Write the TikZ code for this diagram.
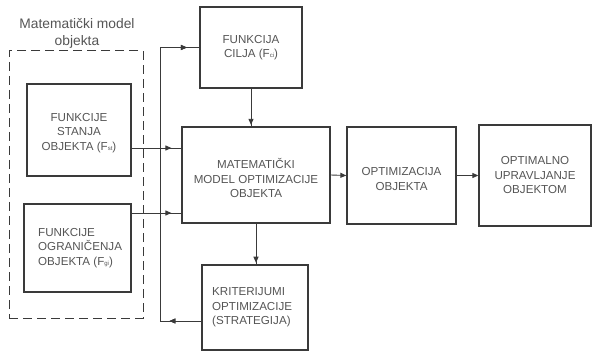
\documentclass[tikz,border=0pt]{standalone}
\usepackage{fontspec}
\setmainfont{Liberation Sans}
\usetikzlibrary{arrows.meta,decorations.markings}
\definecolor{txt}{HTML}{555555}
\definecolor{ln}{HTML}{3A3A3A}
\tikzset{
  blk/.style={draw=ln, line width=1.3pt, rectangle, inner sep=0pt, text=txt,
     font=\fontsize{11.6}{14.5}\selectfont, align=center},
  conn/.style={draw=ln, line width=0.9pt},
  tip/.style={-{Triangle[length=6pt,width=5pt]}},
  midarr/.style={decoration={markings, mark=at position #1 with {\arrow{Triangle[length=6pt,width=5pt]}}}, postaction=decorate},
}
\begin{document}
\begin{tikzpicture}[x=1pt,y=-1pt]
\useasboundingbox (0,0) rectangle (593,352);
% dashed frame
\node (frame) [draw=ln, line width=1pt, dash pattern=on 9pt off 5pt, rectangle, inner sep=0pt,
   minimum width=134pt, minimum height=267pt] at (76,184.5) {};
\node (title) [text=txt, font=\fontsize{13.8}{17}\selectfont, align=center] at (77,33) {Matematički model\\objekta};
% boxes
\node (cilj) [blk, minimum width=102pt, minimum height=81pt] at (251,47.5) {FUNKCIJA\\CILJA (F{\fontsize{6}{6}\selectfont ci})};
\node (stanja) [blk, minimum width=104pt, minimum height=92pt] at (79,130) {};
\node (stanjat) [text=txt, font=\fontsize{11.6}{14.5}\selectfont, align=center] at (79,133) {FUNKCIJE\\STANJA\\OBJEKTA (F{\fontsize{6}{6}\selectfont st})};
\node (ogr) [blk, minimum width=107pt, minimum height=88pt] at (77.5,248) {};
\node (ogrt) [text=txt, font=\fontsize{11.6}{14.5}\selectfont, align=left, anchor=west, inner sep=0pt] at (38,248) {FUNKCIJE\\OGRANIČENJA\\OBJEKTA (F{\fontsize{6}{6}\selectfont gi})};
\node (mat) [blk, minimum width=148pt, minimum height=96pt] at (256,175) {};
\node (matt) [text=txt, font=\fontsize{11.6}{14.5}\selectfont, align=center] at (256,178) {MATEMATIČKI\\MODEL OPTIMIZACIJE\\OBJEKTA};
\node (opt) [blk, minimum width=109pt, minimum height=97pt] at (401.5,175.5) {};
\node (optt) [text=txt, font=\fontsize{11.6}{14.5}\selectfont, align=center] at (401.5,179) {OPTIMIZACIJA\\OBJEKTA};
\node (upr) [blk, minimum width=112pt, minimum height=101pt] at (535,175.5) {OPTIMALNO\\UPRAVLJANJE\\OBJEKTOM};
\node (krit) [blk, minimum width=106pt, minimum height=85pt] at (255,307.5) {};
\node (kritt) [text=txt, font=\fontsize{11.6}{14.5}\selectfont, align=left, anchor=west, inner sep=0pt] at (212,307.5) {KRITERIJUMI\\OPTIMIZACIJE\\(STRATEGIJA)};
% helper coordinates
\coordinate (ya) at (0,148);
\coordinate (yb) at (0,213);
\coordinate (yk) at (0,321);
\coordinate (bus) at (160,0);
% connectors
\draw[conn, midarr=0.8] (stanja.east |- ya) -- (mat.west |- ya);
\draw[conn, midarr=0.8] (ogr.east |- yb) -- (mat.west |- yb);
\draw[conn, midarr=0.96] (cilj.south) -- (cilj.south |- mat.north);
\draw[conn, midarr=0.96] (mat.south) -- (mat.south |- krit.north);
\draw[conn, tip] (mat.east) -- (opt.west);
\draw[conn, tip] (opt.east) -- (upr.west);
\draw[conn, midarr=0.09, midarr=0.965] (krit.west |- yk) -- (bus |- yk) -- (bus |- cilj.west) -- (cilj.west);
\end{tikzpicture}
\end{document}
